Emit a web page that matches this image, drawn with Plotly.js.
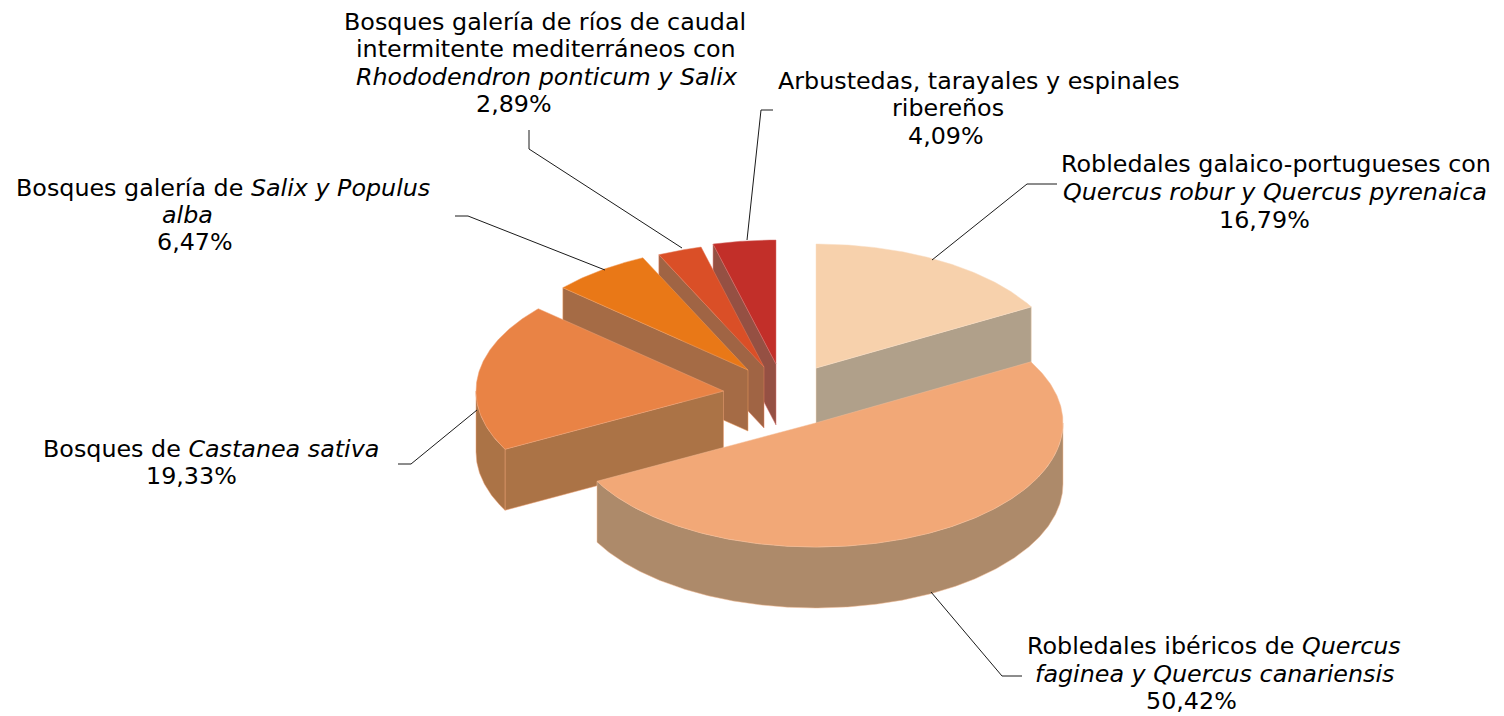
<!DOCTYPE html>
<html><head><meta charset="utf-8">
<script src="https://cdn.plot.ly/plotly-3.0.1.min.js"></script>
<style>html,body{margin:0;padding:0;background:#fff}#c{width:1504px;height:716px}</style>
</head><body><div id="c"></div>
<script>
// --- data ---
const categories = [
  ["Robledales galaico-portugueses con","<i>Quercus robur y Quercus pyrenaica</i>"],
  ["Robledales ibéricos de <i>Quercus</i>","<i>faginea y Quercus canariensis</i>"],
  ["Bosques de <i>Castanea sativa</i>"],
  ["Bosques galería de <i>Salix y Populus</i>","<i>alba</i>"],
  ["Bosques galería de ríos de caudal","intermitente mediterráneos con","<i>Rhododendron ponticum y Salix</i>"],
  ["Arbustedas, tarayales y espinales","ribereños"]
];
const values = [16.79, 50.42, 19.33, 6.47, 2.89, 4.09];
// --- styling ---
const topColors  = ["#F7D1AC","#F2A877","#E98345","#E97817","#DA4F27","#C22F29"];
const sideColors = ["#B0A08A","#AD8A6A","#AB7346","#A56B45","#A06444","#955043"];
const edgeColors = ["#F9DDC2","#F5BC96","#EFA377","#EE9C5E","#E37C5C","#D5706C"];
// --- projection: exploded slice apexes, ellipse radii, extrusion depth ---
const apexX = [816,815.5,723.5,748,764,776];
const apexY = [368,423,391,370,367,364];
const rx = 247.5, ry = 124, depth = 61;
// --- label placement, one entry per text line (last = percentage) ---
const labelLineX = [[1276,1274.5,1264],[1214,1214,1191],[211,191.5],[223,187.5,194.5],[545,546,547,514],[979,948,946]];
const labelLineY = [[164,192,220],[646,674,701],[449,476],[188,215,242],[22,49,77,104],[81,108,136]];
const leaderX = [[932,1027,1057],[931,1002,1022],[477,411,398],[605,468,455],[682,529,529],[747,761,773]];
const leaderY = [[260,184,184],[592,676,676],[410,464,464],[270,216,216],[248,149,130],[240,110,110]];

const total = values.reduce((a,b)=>a+b,0);
let acc = 0;
const slices = values.map((v,i)=>{ const s=acc/total*2*Math.PI; acc+=v; return {i,s,e:acc/total*2*Math.PI}; });
const px = (i,a)=>apexX[i]+rx*Math.sin(a);
const py = (i,a)=>apexY[i]-ry*Math.cos(a);
const step = Math.PI/180/2;
const arc = (a,b)=>{ const out=[]; const n=Math.max(2,Math.ceil((b-a)/step)); for(let k=0;k<=n;k++) out.push(a+(b-a)*k/n); return out; };
const poly = (xs,ys,fill,line)=>({type:'scatter',mode:'lines',x:xs,y:ys,fill:'toself',fillcolor:fill,
  line:{color:line,width:0.5},hoverinfo:'skip',showlegend:false});

function sliceTraces(sl){
  const {i,s,e}=sl, tr=[];
  const wallAngle = (e<Math.PI)? e : (s>Math.PI? s : null);
  if(wallAngle!==null){
    const x=[apexX[i],px(i,wallAngle),px(i,wallAngle),apexX[i],apexX[i]];
    const y=[apexY[i],py(i,wallAngle),py(i,wallAngle)+depth,apexY[i]+depth,apexY[i]];
    tr.push(poly(x,y,sideColors[i],edgeColors[i]));
  }
  const r0=Math.max(s,Math.PI/2), r1=Math.min(e,Math.PI*1.5);
  if(r1>r0){
    const a=arc(r0,r1);
    const x=a.map(t=>px(i,t)), y=a.map(t=>py(i,t));
    const rev=a.slice().reverse();
    tr.push(poly(x.concat(rev.map(t=>px(i,t)),[x[0]]),y.concat(rev.map(t=>py(i,t)+depth),[y[0]]),sideColors[i],edgeColors[i]));
  }
  const a=arc(s,e);
  tr.push(poly([apexX[i]].concat(a.map(t=>px(i,t)),[apexX[i]]),[apexY[i]].concat(a.map(t=>py(i,t)),[apexY[i]]),topColors[i],edgeColors[i]));
  return tr;
}
const order=[5,4,3,2,0,1];
const traces=[];
order.forEach(k=>traces.push(...sliceTraces(slices[k])));
leaderX.forEach((xs,k)=>traces.push({type:'scatter',mode:'lines',x:xs,y:leaderY[k],
  line:{color:'#1a1a1a',width:1},hoverinfo:'skip',showlegend:false}));

const fmt=v=>v.toFixed(2).replace('.',',')+'%';
const annotations=[];
categories.forEach((lines,k)=>{
  lines.concat([fmt(values[k])]).forEach((t,n)=>annotations.push({
    x:labelLineX[k][n],y:labelLineY[k][n],xref:'x',yref:'y',showarrow:false,xanchor:'center',yanchor:'middle',align:'center',
    text:t,font:{family:'"DejaVu Sans",Verdana,sans-serif',size:23.8,color:'#000'}}));
});
const layout={width:1504,height:716,margin:{l:0,r:0,t:0,b:0},paper_bgcolor:'#fff',plot_bgcolor:'#fff',showlegend:false,
  xaxis:{range:[0,1504],visible:false,fixedrange:true},
  yaxis:{range:[716,0],visible:false,fixedrange:true},annotations};
Plotly.newPlot('c',traces,layout,{displayModeBar:false,staticPlot:true});
</script></body></html>
